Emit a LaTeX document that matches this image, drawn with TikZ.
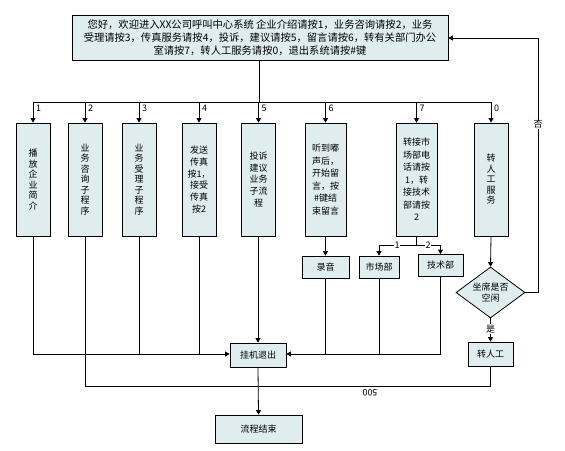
\documentclass[tikz,border=0pt]{standalone}
\usepackage{fontspec}
\setmainfont{Noto Sans CJK SC}
\usetikzlibrary{shapes.geometric,arrows.meta}
\definecolor{boxfill}{HTML}{DFEDEF}
\tikzset{
  box/.style={draw=black, fill=boxfill, line width=0.8pt, inner sep=0pt, align=center},
  colbox/.style={box, minimum width=34, minimum height=113},
  widebox/.style={box, minimum width=41, minimum height=113},
  smallbox/.style={box, minimum height=22, font=\fontsize{9}{10}\selectfont},
  fsingle/.style={font=\fontsize{9}{10.5}\selectfont},
  fdouble/.style={font=\fontsize{9}{11.8}\selectfont},
  ftriple/.style={font=\fontsize{9}{12.5}\selectfont},
  arr/.style={-{Triangle[length=4.5pt,width=5pt]}},
  ln/.style={line width=0.8pt, draw=black},
  lab/.style={font=\fontsize{9}{9}\selectfont, inner sep=1pt},
  onlab/.style={lab, fill=white, inner sep=0.8pt}
}
\begin{document}
\begin{tikzpicture}[x=1pt,y=-1pt]
\useasboundingbox (0,0) rectangle (565,450);
% top box
\node[box, minimum width=376, minimum height=45, font=\fontsize{10.3}{12.8}\selectfont] (top) at (260,37.5)
 {您好，欢迎进入XX公司呼叫中心系统 企业介绍请按1，业务咨询请按2，业务\\
  受理请按3，传真服务请按4，投诉，建议请按5，留言请按6，转有关部门办公\\
  室请按7，转人工服务请按0，退出系统请按\#键};
% columns
\node[colbox, fsingle] (c1) at (33,179.5) {播\\放\\企\\业\\简\\介};
\node[colbox, fsingle] (c2) at (85,179.5) {业\\务\\咨\\询\\子\\程\\序};
\node[colbox, fsingle] (c3) at (139,179.5) {业\\务\\受\\理\\子\\程\\序};
\node[colbox, fdouble] (c4) at (199,179.5) {发送\\传真\\按1，\\接受\\传真\\按2};
\node[colbox, fdouble] (c5) at (258.5,179.5) {投诉\\建议\\业务\\子流\\程};
\node[widebox, ftriple] (c6) at (325.5,179.5) {听到嘟\\声后，\\开始留\\言，按\\\#键结\\束留言};
\node[widebox, ftriple] (c7) at (416.5,179.5) {转接市\\场部电\\话请按\\1，转\\接技术\\部请按\\2};
\node[colbox, fsingle] (c0) at (491,179.5) {转\\人\\工\\服\\务};
% bus
\coordinate (stem) at (259,102);
\coordinate (busL) at (33,102);
\coordinate (busR) at (491,102);
\draw[ln] (top.south -| stem) -- (stem);
\draw[ln] (busL) -- (busR);
\foreach \n/\t in {c1/1,c2/2,c3/3,c4/4,c5/5,c6/6,c7/7,c0/0}{
  \draw[ln, arr] (\n.north |- stem) -- (\n.north);
  \node[lab, anchor=west] at ([xshift=2pt]\n.north |- 0,108) {\t};
}
% second row
\node[smallbox, minimum width=47] (rec) at (325.5,267) {录音};
\node[smallbox, minimum width=40] (mkt) at (379,267) {市场部};
\node[smallbox, minimum width=45] (tech) at (440.5,265.5) {技术部};
\node[diamond, box, minimum width=69, minimum height=51, aspect=1.35, font=\fontsize{9}{11}\selectfont] (dia) at (490.5,292.5) {坐席是否\\空闲};
\node[smallbox, minimum width=45, minimum height=24] (man) at (490.5,354) {转人工};
\node[smallbox, minimum width=56, minimum height=24] (hang) at (258,355) {挂机退出};
\node[smallbox, minimum width=87, minimum height=28] (end) at (258.5,429) {流程结束};

\draw[ln, arr] (c6.south) -- (rec.north);
\coordinate (split) at (416.5,245);
\draw[ln] (c7.south) -- (split);
\draw[ln, arr] (split) -| (mkt.north);
\draw[ln, arr] (split) -| (tech.north);
\node[onlab] at (397,245) {1};
\node[onlab] at (428,245) {2};

\draw[ln, arr] (c0.south) -- (dia.north);
\draw[ln, arr] (dia.south) -- (man.north) node[onlab, pos=0.45] {是};
\coordinate (fbR) at (538,292.5);
\draw[ln, arr] (dia.east) -- (fbR) |- (top.east |- 0,38) node[onlab, pos=0.33] {否};

% joins to hang
\coordinate (joinL) at (33,354);
\draw[ln, arr] (c1.south) -- (joinL) -- (hang.west |- joinL);
\draw[ln] (c3.south) -- (c3.south |- joinL);
\draw[ln] (c4.south) -- (c4.south |- joinL);
\draw[ln, arr] (c5.south -| hang.north) -- (hang.north);
\coordinate (joinR) at (440.5,354);
\draw[ln, arr] (tech.south) -- (joinR) -- (hang.east |- joinR);
\draw[ln] (rec.south) -- (rec.south |- joinR);
\draw[ln] (mkt.south) -- (mkt.south |- joinR);
% bottom loop
\coordinate (loopL) at (85,386);
\coordinate (loopR) at (490.5,386);
\draw[ln] (c2.south) -- (loopL) -- (loopR) -- (man.south);
\node[lab, rotate=180] at (370,393) {500};
\draw[ln, arr] (hang.south) -- (end.north);
\end{tikzpicture}
\end{document}
